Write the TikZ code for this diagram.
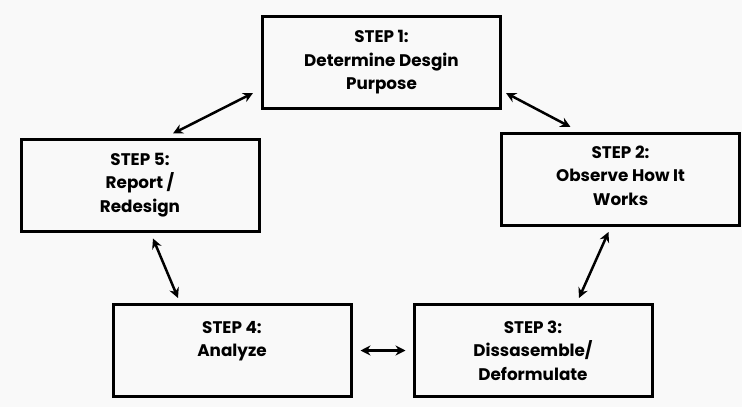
\documentclass[tikz,border=0pt]{standalone}
\usepackage{fontspec}
\setmainfont{Poppins}
\usetikzlibrary{arrows.meta}
\definecolor{bg}{HTML}{F9F9F9}
\tikzset{
  stepbox/.style={draw=black, line width=3pt, minimum width=238pt, minimum height=92pt,
    inner sep=0pt, align=center, font=\fontsize{16.8}{23.5}\selectfont\bfseries},
  arr/.style={line width=2.5pt, {Stealth[length=10pt,width=10pt]}-{Stealth[length=10pt,width=10pt]}}
}
\begin{document}
\begin{tikzpicture}[x=1pt,y=-1pt]
\fill[bg] (0,0) rectangle (742,407);
\useasboundingbox (0,0) rectangle (742,407);
\node[stepbox] (b1) at (381.5,62.5) {STEP 1:\\Determine Desgin\\Purpose};
\node[stepbox, text depth=8pt] (b2) at (620.5,179.5) {STEP 2:\\Observe How It\\Works};
\node[stepbox] (b3) at (533,350.5) {STEP 3:\\Dissasemble/\\Deformulate};
\node[stepbox] (b4) at (232,350.5) {STEP 4:\\Analyze\\\mbox{}};
\node[stepbox] (b5) at (140,185) {STEP 5:\\Report /\\Redesign};
\draw[arr] ([xshift=-8pt,yshift=17pt]b1.south west) -- ([xshift=33pt,yshift=4pt]b5.north);
\draw[arr] ([xshift=4pt,yshift=17pt]b1.south east) -- ([xshift=-50pt,yshift=5pt]b2.north);
\draw[arr] ([xshift=13pt,yshift=-6pt]b5.south) -- ([xshift=-54pt,yshift=5pt]b4.north);
\draw[arr] ([xshift=-12pt,yshift=-5pt]b2.south) -- ([xshift=46pt,yshift=5pt]b3.north);
\draw[arr] ([xshift=8pt]b4.east) -- ([xshift=-7pt]b3.west);
\end{tikzpicture}
\end{document}
